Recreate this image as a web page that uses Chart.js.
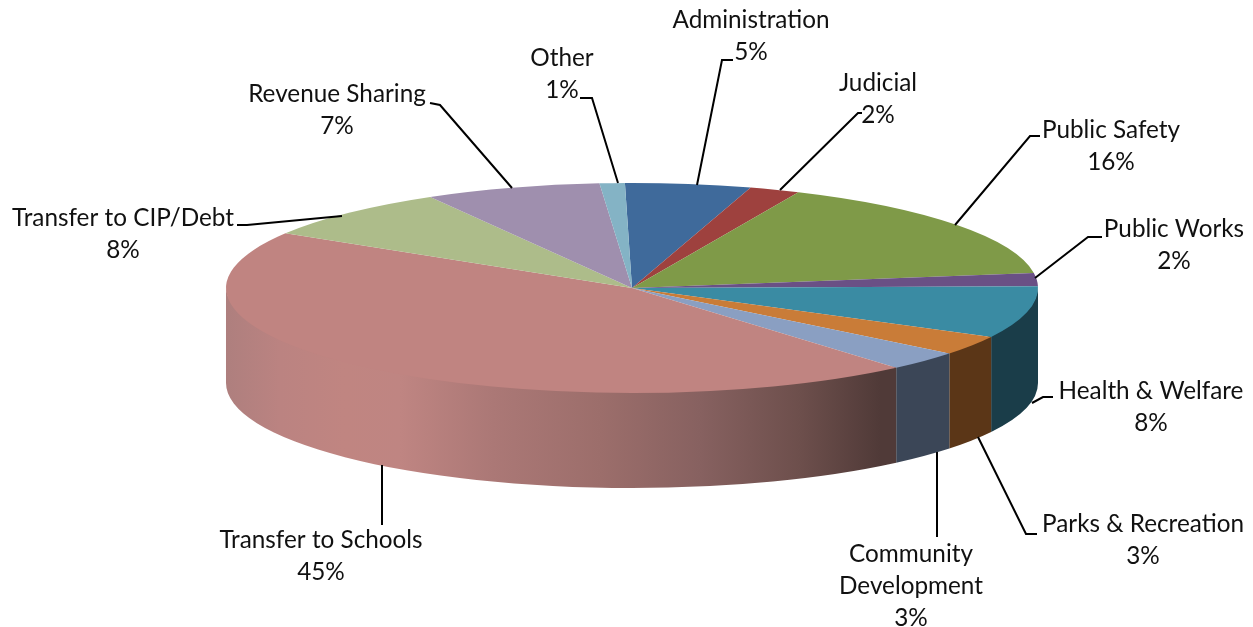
<!DOCTYPE html>
<html>
<head>
<meta charset="utf-8">
<title>Budget by function</title>
<script src="https://cdn.jsdelivr.net/npm/chart.js@4"></script>
<style>
  html, body { margin: 0; padding: 0; background: #fff; }
  #box { position: relative; width: 1253px; height: 627px; }
</style>
</head>
<body>
<div id="box"><canvas id="myChart" width="1253" height="627"></canvas></div>
<script>
const categories = ['Administration', 'Judicial', 'Public Safety', 'Public Works', 'Health & Welfare',
    'Parks & Recreation', 'Community Development', 'Transfer to Schools', 'Transfer to CIP/Debt',
    'Revenue Sharing', 'Other'];
const percents = [5, 2, 16, 2, 8, 3, 3, 45, 8, 7, 1];

const topColors = ['#3f6a9b', '#9e413e', '#7f9a48', '#6a5085', '#3a8ba3', '#c97c38', '#8a9fc2',
    '#c08481', '#adbc8a', '#9f8fae', '#84b3c5'];
const wallColors = ['#25405e', '#5f2725', '#4c5c2b', '#3f3050', '#1a3d49', '#5b3617', '#3b4657',
    null, '#687152', '#5f5668', '#4f6b76'];

// squashed disc
const RADIUS = 406;
const SQUASH = 105 / 406;
const DEPTH = 95;

// where each label sits: centre x, first line y, wrapped lines, leader line points
const labelLines = [
    { x: 751, y: 20, text: ['Administration'], leader: [[697, 185], [722, 60], [733, 60]] },
    { x: 878, y: 83, text: ['Judicial'], leader: [[780, 190], [858, 113], [862, 113]] },
    { x: 1111, y: 130, text: ['Public Safety'], leader: [[955, 225], [1030, 136], [1040, 136]] },
    { x: 1174, y: 229, text: ['Public Works'], leader: [[1035, 278], [1088, 237], [1102, 237]] },
    { x: 1151, y: 391, text: ['Health & Welfare'], leader: [[1032, 403], [1043, 397], [1053, 397]] },
    { x: 1143, y: 524, text: ['Parks & Recreation'], leader: [[978, 437], [1026, 534], [1037, 534]] },
    { x: 911, y: 554, text: ['Community', 'Development'], leader: [[937, 452], [937, 537]] },
    { x: 321, y: 540, text: ['Transfer to Schools'], leader: [[382, 465], [382, 525]] },
    { x: 123, y: 218, text: ['Transfer to CIP/Debt'], leader: [[342, 216], [247, 225], [237, 225]] },
    { x: 337, y: 94, text: ['Revenue Sharing'], leader: [[512, 188], [440, 105], [430, 103]] },
    { x: 562, y: 58, text: ['Other'], leader: [[618, 183], [592, 98], [580, 98]] }
];

const LINE_HEIGHT = 32;

function schoolsGradient(ctx) {
    let g = ctx.createLinearGradient(226, 0, 912, 0);
    let stops = [[226, '#ae7f7e'], [280, '#bb8381'], [345, '#c08581'], [400, '#bf8582'], [493, '#ab7876'],
        [600, '#9c6e6b'], [700, '#876160'], [800, '#6d4f4c'], [880, '#503a38'], [912, '#503a38']];
    stops.forEach(function (s) { g.addColorStop((s[0] - 226) / (912 - 226), s[1]); });
    return g;
}

const disc3d = {
    id: 'disc3d',
    beforeDatasetsDraw(chart) {
        const ctx = chart.ctx;
        const arcs = chart.getDatasetMeta(0).data;
        const cx = arcs[0].x, cy = arcs[0].y;

        // side wall, only the part of each slice facing front
        arcs.forEach(function (arc, i) {
            let a0 = Math.max(arc.startAngle, 0);
            let a1 = Math.min(arc.endAngle, Math.PI);
            if (a1 <= a0) return;
            ctx.beginPath();
            // starts a little higher so no white seam shows under the top face
            ctx.ellipse(cx, cy - 2, RADIUS, RADIUS * SQUASH, 0, a0, a1);
            ctx.ellipse(cx, cy + DEPTH, RADIUS, RADIUS * SQUASH, 0, a1, a0, true);
            ctx.closePath();
            ctx.fillStyle = wallColors[i] || schoolsGradient(ctx);
            ctx.fill();
        });

        ctx.save();
        ctx.translate(cx, cy);
        ctx.scale(1, SQUASH);
        ctx.translate(-cx, -cy);
    },
    afterDatasetsDraw(chart) {
        chart.ctx.restore();
    }
};

const calloutLabels = {
    id: 'calloutLabels',
    afterDraw(chart) {
        const ctx = chart.ctx;

        labelLines.forEach(function (item, i) {
            ctx.beginPath();
            item.leader.forEach(function (p, n) {
                if (n === 0) ctx.moveTo(p[0], p[1]);
                else ctx.lineTo(p[0], p[1]);
            });
            ctx.strokeStyle = '#000';
            ctx.lineWidth = 2;
            ctx.stroke();

            ctx.fillStyle = '#111';
            ctx.font = '24.3px Lato';
            ctx.textAlign = 'center';
            ctx.textBaseline = 'middle';
            let lines = item.text.concat([percents[i] + '%']);
            lines.forEach(function (t, n) {
                ctx.fillText(t, item.x, item.y + n * LINE_HEIGHT);
            });
        });
    }
};

let graficar = new Chart(document.getElementById('myChart'), {
    type: 'pie',
    data: {
        labels: categories,
        datasets: [{
            data: percents,
            backgroundColor: topColors,
            borderWidth: 0,
            clip: false
        }]
    },
    options: {
        responsive: false,
        animation: false,
        radius: RADIUS,
        rotation: -1,
        layout: { padding: { left: 11, bottom: 51 } },
        plugins: { legend: { display: false }, tooltip: { enabled: false } }
    },
    plugins: [disc3d, calloutLabels]
});
</script>
</body>
</html>
